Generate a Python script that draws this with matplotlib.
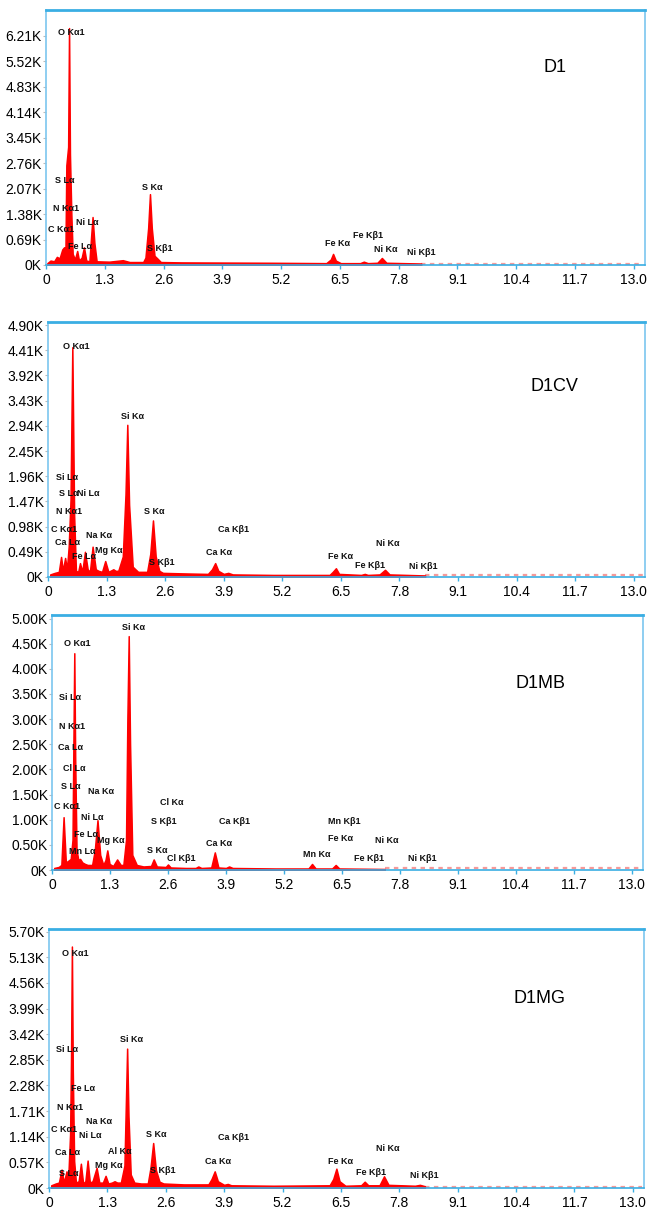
"""
EDS spectra of D1, D1CV, D1MB and D1MG - four stacked panels
"""
import matplotlib
matplotlib.use('Agg')
import matplotlib.pyplot as plt

W, H = 649, 1214

# x axis (keV)
x_ticks = [0, 1.3, 2.6, 3.9, 5.2, 6.5, 7.8, 9.1, 10.4, 11.7, 13.0]
x_labels = ['0', '1.3', '2.6', '3.9', '5.2', '6.5', '7.8', '9.1', '10.4', '11.7', '13.0']

# ---- D1 ----
d1_e = [0.03, 0.10, 0.18, 0.24, 0.30, 0.36, 0.40, 0.43, 0.45, 0.49, 0.51, 0.53, 0.56, 0.59, 0.64,
        0.69, 0.73, 0.79, 0.84, 0.89, 0.96, 1.00, 1.03, 1.07, 1.12, 1.40, 1.70, 1.85, 2.15, 2.20,
        2.26, 2.30, 2.34, 2.40, 2.46, 2.54, 3.00, 5.00, 6.20, 6.30, 6.35, 6.41, 6.52, 6.95, 7.03,
        7.12, 7.33, 7.43, 7.53, 8.30]
d1_c = [0.05, 0.12, 0.10, 0.22, 0.18, 0.42, 0.48, 0.35, 2.70, 3.20, 6.42, 3.00, 1.40, 0.30, 0.15,
        0.38, 0.12, 0.20, 0.48, 0.12, 0.10, 0.80, 1.30, 0.60, 0.10, 0.09, 0.13, 0.08, 0.08, 0.20,
        1.00, 1.92, 1.00, 0.25, 0.18, 0.08, 0.07, 0.06, 0.05, 0.15, 0.30, 0.12, 0.05, 0.05, 0.09,
        0.05, 0.06, 0.19, 0.06, 0.04]
d1_yticks = [0, 0.69, 1.38, 2.07, 2.76, 3.45, 4.14, 4.83, 5.52, 6.21]
d1_lbl = ['O Kα1', 'S Lα', 'N Kα1', 'Ni Lα', 'C Kα1', 'Fe Lα', 'S Kα', 'S Kβ1',
          'Fe Kα', 'Fe Kβ1', 'Ni Kα', 'Ni Kβ1']
d1_lx = [0.27, 0.20, 0.15, 0.66, 0.04, 0.49, 2.12, 2.23, 6.17, 6.79, 7.26, 7.99]
d1_ly = [6.29, 2.28, 1.54, 1.14, 0.95, 0.49, 2.11, 0.46, 0.57, 0.81, 0.43, 0.35]

# ---- D1CV ----
d1cv_e = [0.05, 0.15, 0.24, 0.29, 0.33, 0.38, 0.42, 0.46, 0.50, 0.54, 0.58, 0.62, 0.67, 0.71, 0.76,
          0.82, 0.88, 0.93, 0.99, 1.06, 1.12, 1.20, 1.27, 1.34, 1.45, 1.50, 1.56, 1.66, 1.72, 1.76,
          1.80, 1.88, 2.00, 2.20, 2.27, 2.33, 2.39, 2.47, 2.55, 3.00, 3.55, 3.64, 3.71, 3.78, 3.90,
          4.00, 4.10, 5.00, 6.25, 6.32, 6.39, 6.46, 6.95, 7.03, 7.10, 7.36, 7.48, 7.58, 8.37]
d1cv_c = [0.05, 0.08, 0.10, 0.39, 0.12, 0.37, 0.15, 0.60, 1.50, 4.47, 1.20, 0.12, 0.10, 0.27, 0.10,
          0.49, 0.15, 0.10, 0.59, 0.15, 0.12, 0.10, 0.31, 0.10, 0.15, 0.12, 0.12, 0.40, 1.60, 2.96,
          1.40, 0.20, 0.10, 0.10, 0.45, 1.10, 0.40, 0.12, 0.08, 0.07, 0.06, 0.15, 0.27, 0.12, 0.06,
          0.08, 0.05, 0.04, 0.04, 0.10, 0.17, 0.06, 0.04, 0.06, 0.04, 0.05, 0.14, 0.05, 0.03]
d1cv_yticks = [0, 0.49, 0.98, 1.47, 1.96, 2.45, 2.94, 3.43, 3.92, 4.41, 4.90]
d1cv_lbl = ['O Kα1', 'Si Kα', 'Si Lα', 'S Lα', 'Ni Lα', 'N Kα1', 'C Kα1', 'Ca Lα', 'Na Kα',
            'Fe Lα', 'Mg Kα', 'S Kα', 'S Kβ1', 'Ca Kβ1', 'Ca Kα', 'Fe Kα', 'Fe Kβ1', 'Ni Kα', 'Ni Kβ1']
d1cv_lx = [0.33, 1.61, 0.18, 0.25, 0.65, 0.18, 0.06, 0.16, 0.85,
           0.53, 1.05, 2.14, 2.25, 3.77, 3.50, 6.22, 6.81, 7.28, 8.01]
d1cv_ly = [4.49, 3.13, 1.93, 1.63, 1.63, 1.28, 0.93, 0.68, 0.80,
           0.39, 0.51, 1.28, 0.29, 0.93, 0.47, 0.39, 0.23, 0.66, 0.21]

# ---- D1MB ----
d1mb_e = [0.05, 0.15, 0.21, 0.26, 0.31, 0.36, 0.42, 0.46, 0.48, 0.50, 0.52, 0.55, 0.59, 0.63, 0.68,
          0.74, 0.80, 0.90, 0.96, 1.02, 1.08, 1.15, 1.20, 1.24, 1.29, 1.37, 1.46, 1.54, 1.60, 1.66,
          1.69, 1.72, 1.75, 1.80, 1.90, 2.05, 2.22, 2.28, 2.35, 2.55, 2.60, 2.66, 3.00, 3.22, 3.28,
          3.35, 3.57, 3.65, 3.73, 3.90, 3.97, 4.05, 5.00, 5.75, 5.83, 5.91, 6.28, 6.36, 6.44, 7.46]
d1mb_c = [0.04, 0.06, 0.10, 1.05, 0.15, 0.18, 0.22, 0.60, 2.50, 4.31, 2.20, 0.40, 0.20, 0.22, 0.15,
          0.12, 0.10, 0.10, 0.40, 0.99, 0.30, 0.10, 0.20, 0.39, 0.12, 0.08, 0.21, 0.10, 0.10, 0.60,
          3.00, 4.65, 2.50, 0.30, 0.10, 0.07, 0.08, 0.21, 0.07, 0.06, 0.11, 0.05, 0.04, 0.04, 0.07,
          0.04, 0.05, 0.35, 0.05, 0.04, 0.07, 0.04, 0.03, 0.03, 0.12, 0.03, 0.03, 0.10, 0.03, 0.02]
d1mb_yticks = [0, 0.5, 1.0, 1.5, 2.0, 2.5, 3.0, 3.5, 4.0, 4.5, 5.0]
d1mb_lbl = ['Si Kα', 'O Kα1', 'Si Lα', 'N Kα1', 'Ca Lα', 'Cl Lα', 'S Lα', 'Na Kα', 'C Kα1',
            'Ni Lα', 'Fe Lα', 'Mg Kα', 'Mn Lα', 'Cl Kα', 'S Kβ1', 'S Kα', 'Cl Kβ1', 'Ca Kβ1',
            'Ca Kα', 'Mn Kα', 'Mn Kβ1', 'Fe Kα', 'Ni Kα', 'Fe Kβ1', 'Ni Kβ1']
d1mb_lx = [1.56, 0.27, 0.15, 0.15, 0.13, 0.24, 0.20, 0.80, 0.04,
           0.65, 0.50, 1.02, 0.39, 2.43, 2.23, 2.12, 2.57, 3.75,
           3.45, 5.62, 6.18, 6.18, 7.24, 6.78, 7.98]
d1mb_ly = [4.83, 4.50, 3.43, 2.85, 2.43, 2.02, 1.67, 1.57, 1.27,
           1.04, 0.71, 0.58, 0.37, 1.34, 0.96, 0.39, 0.23, 0.96,
           0.52, 0.30, 0.96, 0.63, 0.58, 0.23, 0.23]

# ---- D1MG ----
d1mg_e = [0.05, 0.15, 0.22, 0.28, 0.33, 0.39, 0.43, 0.47, 0.49, 0.51, 0.53, 0.56, 0.60, 0.66, 0.71,
          0.76, 0.81, 0.86, 0.91, 0.97, 1.06, 1.12, 1.20, 1.26, 1.32, 1.40, 1.46, 1.52, 1.60, 1.68,
          1.71, 1.74, 1.77, 1.82, 1.90, 2.05, 2.20, 2.26, 2.32, 2.38, 2.46, 2.55, 3.00, 3.55, 3.62,
          3.69, 3.76, 3.90, 3.98, 4.06, 5.00, 6.25, 6.33, 6.40, 6.47, 6.60, 6.95, 7.03, 7.11, 7.36,
          7.46, 7.56, 8.15, 8.26, 8.37]
d1mg_c = [0.06, 0.10, 0.12, 0.41, 0.12, 0.37, 0.25, 1.20, 2.80, 5.37, 2.60, 0.60, 0.12, 0.15, 0.54,
          0.10, 0.15, 0.61, 0.12, 0.15, 0.45, 0.12, 0.12, 0.27, 0.10, 0.12, 0.15, 0.12, 0.12, 0.50,
          1.80, 3.10, 1.60, 0.30, 0.12, 0.10, 0.10, 0.45, 1.00, 0.40, 0.14, 0.10, 0.08, 0.08, 0.20,
          0.37, 0.15, 0.07, 0.09, 0.06, 0.05, 0.06, 0.20, 0.43, 0.15, 0.05, 0.06, 0.14, 0.06, 0.06,
          0.26, 0.07, 0.05, 0.07, 0.04]
d1mg_yticks = [0, 0.57, 1.14, 1.71, 2.28, 2.85, 3.42, 3.99, 4.56, 5.13, 5.70]
d1mg_lbl = ['O Kα1', 'Si Kα', 'Si Lα', 'Fe Lα', 'N Kα1', 'Na Kα', 'C Kα1', 'Ni Lα', 'Al Kα',
            'Ca Lα', 'Mg Kα', 'S Lα', 'S Kα', 'S Kβ1', 'Ca Kβ1', 'Ca Kα', 'Fe Kα', 'Ni Kα',
            'Fe Kβ1', 'Ni Kβ1']
d1mg_lx = [0.30, 1.59, 0.15, 0.50, 0.18, 0.82, 0.05, 0.67, 1.31,
           0.13, 1.02, 0.22, 2.15, 2.24, 3.76, 3.48, 6.21, 7.28, 6.83, 8.03]
d1mg_ly = [5.22, 3.30, 3.07, 2.22, 1.79, 1.48, 1.31, 1.16, 0.81,
           0.78, 0.50, 0.33, 1.20, 0.38, 1.13, 0.58, 0.59, 0.87, 0.35, 0.27]

# faint noise tail after the red part (keV, K)
tail_end = 13.2
tail_c = 0.03

panels = [
    # name, pixel box (left, top, right, bottom), ylim top, data, name position (axes frac)
    ('D1', (46, 10, 645, 265), 6.91, d1_e, d1_c, d1_yticks, d1_lbl, d1_lx, d1_ly, (0.849, 0.776)),
    ('D1CV', (48, 322, 645, 577), 4.96, d1cv_e, d1cv_c, d1cv_yticks, d1cv_lbl, d1cv_lx, d1cv_ly, (0.848, 0.749)),
    ('D1MB', (52, 615, 643, 870), 5.07, d1mb_e, d1mb_c, d1mb_yticks, d1mb_lbl, d1mb_lx, d1mb_ly, (0.826, 0.733)),
    ('D1MG', (49, 929, 644, 1188), 5.76, d1mg_e, d1mg_c, d1mg_yticks, d1mg_lbl, d1mg_lx, d1mg_ly, (0.824, 0.730)),
]

fig = plt.figure(figsize=(W / 100, H / 100), dpi=100)
fig.patch.set_facecolor('white')

frame = '#3aaee3'
for name, (l, t, r, b), ytop, e, c, yt, lbl, lx, ly, npos in panels:
    ax = fig.add_axes([l / W, 1 - b / H, (r - l) / W, (b - t) / H])
    ax.fill_between(e, c, 0, color='#ff0000', lw=1.1, zorder=2)
    ax.plot([e[-1], tail_end], [tail_c, tail_c], color='#f59a9a', lw=1.6, ls=(0, (2, 2)), zorder=1)

    for s, x, y in zip(lbl, lx, ly):
        ax.text(x, y, s, fontsize=6.5, fontweight='bold', ha='left', va='center',
                family=['Liberation Sans', 'DejaVu Sans'], color='#111111', zorder=3)

    ax.text(npos[0], npos[1], name, transform=ax.transAxes, fontsize=13,
            ha='center', va='center', family='Liberation Sans')

    ax.set_xlim(0, 13.25)
    ax.set_ylim(0, ytop)
    ax.set_xticks(x_ticks)
    ax.set_xticklabels(x_labels)
    ax.set_yticks(yt)
    ax.set_yticklabels(['0K' if v == 0 else f'{v:.2f}K' for v in yt])
    for lab in ax.get_xticklabels() + ax.get_yticklabels():
        lab.set_family('Liberation Sans')
        lab.set_fontsize(10)
    ax.tick_params(axis='x', length=3, width=1, color=frame, pad=3)
    ax.tick_params(axis='y', length=2, width=0.8, color='#bbbbbb', pad=1)

    for side in ['left', 'right', 'bottom']:
        ax.spines[side].set_color('#7cc6ef')
        ax.spines[side].set_linewidth(1.2)
    ax.spines['top'].set_color(frame)
    ax.spines['top'].set_linewidth(2)
    ax.spines['bottom'].set_color(frame)

fig.savefig('out.png', dpi=100, facecolor='white')
